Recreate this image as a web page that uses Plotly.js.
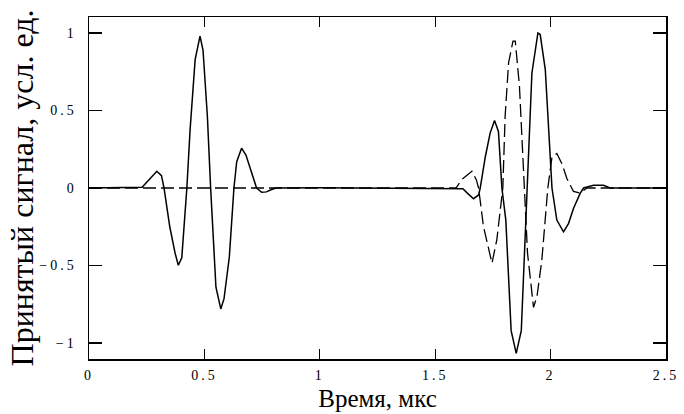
<!DOCTYPE html>
<html>
<head>
<meta charset="utf-8">
<script src="https://cdn.plot.ly/plotly-3.0.1.min.js"></script>
<style>
html,body{margin:0;padding:0;background:#fff;}
#chart{width:684px;height:414px;}
#chart .xtick text, #chart .ytick text{letter-spacing:3px;}
</style>
</head>
<body>
<div id="chart"></div>
<script>
// Solid curve (received signal, first and second pulse)
const solidT = [0, 0.1, 0.2, 0.23, 0.258, 0.28, 0.294, 0.314, 0.325, 0.35, 0.373, 0.387, 0.402, 0.424, 0.438, 0.46, 0.481, 0.494, 0.513, 0.527, 0.55, 0.571, 0.585, 0.608, 0.628, 0.64, 0.661, 0.68, 0.697, 0.712, 0.726, 0.748, 0.769, 0.791, 0.81, 1.0, 1.2, 1.4, 1.6, 1.62, 1.637, 1.666, 1.688, 1.695, 1.717, 1.738, 1.757, 1.774, 1.789, 1.806, 1.829, 1.851, 1.873, 1.886, 1.9, 1.919, 1.945, 1.955, 1.977, 1.991, 2.006, 2.027, 2.056, 2.078, 2.099, 2.128, 2.143, 2.186, 2.229, 2.258, 2.5];
const solidY = [0, 0.002, 0, 0.005, 0.05, 0.09, 0.108, 0.08, 0, -0.25, -0.42, -0.498, -0.45, 0, 0.375, 0.83, 0.98, 0.89, 0.46, 0, -0.64, -0.78, -0.714, -0.445, 0, 0.17, 0.257, 0.213, 0.138, 0.063, 0, -0.028, -0.025, -0.01, 0, 0.002, 0, 0.002, 0, -0.005, -0.03, -0.069, -0.045, 0, 0.2, 0.354, 0.436, 0.365, 0, -0.207, -0.92, -1.067, -0.92, -0.423, 0, 0.742, 1.0, 0.99, 0.764, 0.354, 0, -0.207, -0.283, -0.228, -0.132, -0.035, 0, 0.017, 0.017, 0, 0];
// Dashed curve
const dashT = [0, 0.5, 1.0, 1.5, 1.59, 1.615, 1.659, 1.678, 1.688, 1.709, 1.746, 1.767, 1.785, 1.793, 1.803, 1.818, 1.837, 1.847, 1.865, 1.88, 1.887, 1.9, 1.926, 1.941, 1.962, 1.981, 1.988, 2.006, 2.027, 2.049, 2.071, 2.099, 2.128, 2.157, 2.5];
const dashY = [0, 0, 0, 0, 0, 0.054, 0.108, 0.054, 0, -0.248, -0.485, -0.334, -0.119, 0, 0.463, 0.808, 0.948, 0.948, 0.657, 0.183, 0, -0.42, -0.77, -0.70, -0.465, -0.14, 0, 0.2, 0.222, 0.157, 0.06, -0.022, -0.032, 0, 0];
const xTicks = [0, 0.5, 1, 1.5, 2, 2.5];
const yTicks = [-1, -0.5, 0, 0.5, 1];

const F = "Liberation Serif, Times New Roman, serif";
const traces = [
  {x: solidT, y: solidY, mode: 'lines', line: {color: '#000', width: 1.5}, hoverinfo: 'skip'},
  {x: dashT, y: dashY, mode: 'lines', line: {color: '#000', width: 1.3, dash: '13px,5px'}, hoverinfo: 'skip'}
];
const layout = {
  width: 684, height: 414,
  margin: {l: 89, r: 18, t: 17, b: 55},
  paper_bgcolor: '#fff', plot_bgcolor: '#fff',
  showlegend: false,
  font: {family: F, color: '#000'},
  xaxis: {
    range: [0, 2.5], tickvals: xTicks, ticks: 'inside', ticklen: 10, tickwidth: 1.3, tickcolor: '#000',
    showline: true, linecolor: '#000', linewidth: 1.5, mirror: 'ticks', showgrid: false, zeroline: false,
    tickfont: {family: F, size: 14, color: '#000'}, ticklabelstandoff: 3,
    title: {text: 'Время, мкс', font: {family: F, size: 25, color: '#000'}, standoff: 7}
  },
  yaxis: {
    range: [-1.103, 1.103], tickvals: yTicks, ticks: 'inside', ticklen: 13, tickwidth: 1.3, tickcolor: '#000',
    showline: true, linecolor: '#000', linewidth: 1.5, mirror: 'ticks', showgrid: false, zeroline: false,
    tickfont: {family: F, size: 14, color: '#000'}, ticklabelstandoff: 8,
    title: {text: 'Принятый сигнал, усл. ед.', font: {family: F, size: 32, color: '#000'}, standoff: 8}
  }
};
Plotly.newPlot('chart', traces, layout, {displayModeBar: false, staticPlot: true});
</script>
</body>
</html>
